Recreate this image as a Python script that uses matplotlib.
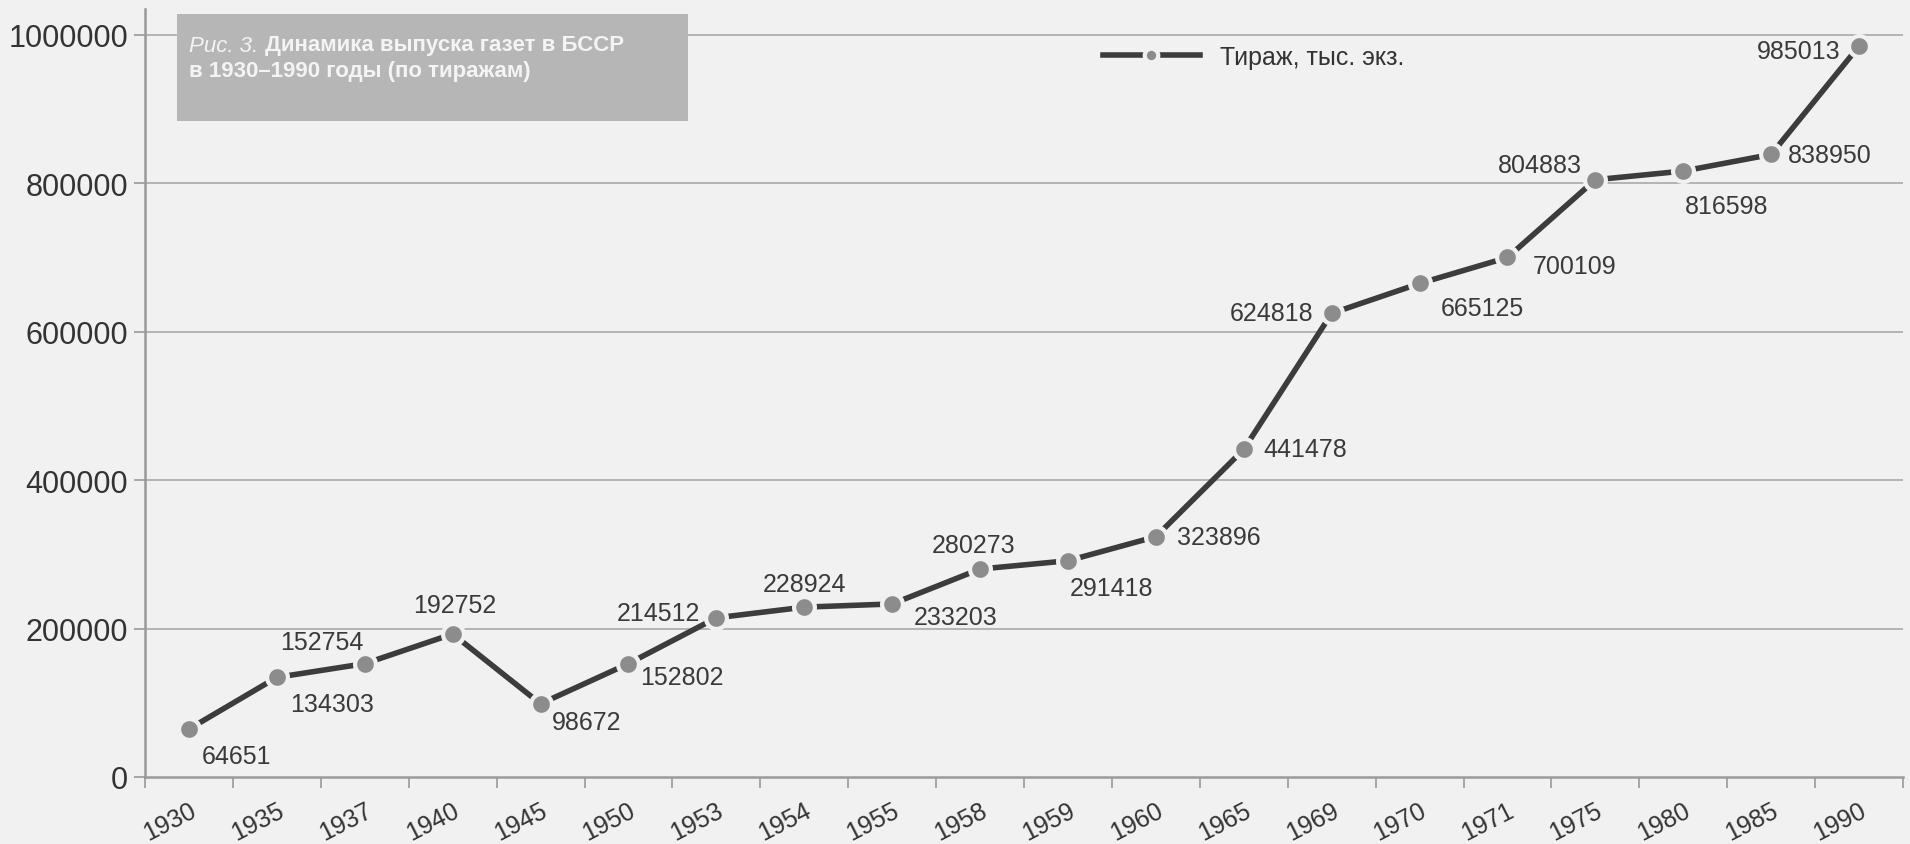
import matplotlib
matplotlib.use("Agg")
import matplotlib.pyplot as plt
from matplotlib.patches import Rectangle

plt.rcParams['font.family'] = ['Liberation Sans', 'DejaVu Sans']

years = ['1930', '1935', '1937', '1940', '1945', '1950', '1953', '1954', '1955', '1958',
         '1959', '1960', '1965', '1969', '1970', '1971', '1975', '1980', '1985', '1990']
circulation = [64651, 134303, 152754, 192752, 98672, 152802, 214512, 228924, 233203, 280273,
               291418, 323896, 441478, 624818, 665125, 700109, 804883, 816598, 838950, 985013]
y_ticks = [0, 200000, 400000, 600000, 800000, 1000000]
series_name = 'Тираж, тыс. экз.'
title_fig = 'Рис. 3.'
title_line1 = 'Динамика выпуска газет в БССР'
title_line2 = 'в 1930–1990 годы (по тиражам)'

# where each value label sits relative to its point (pixels, screen y down)
label_offsets = [(48, 27), (55, 27), (-43, -22), (2, -29), (46, 18), (53, 13), (-58, -5),
                 (0, -23), (63, 13), (-6, -24), (44, 27), (63, 0), (61, 0), (-60, 0),
                 (63, 25), (67, 9), (-55, -15), (43, 35), (59, 1), (-60, 5)]

BG = '#f1f1f1'
W, H = 1910, 845

fig = plt.figure(figsize=(W / 100, H / 100), dpi=100)
fig.patch.set_facecolor(BG)
ax = fig.add_axes([145 / W, 1 - 778 / H, (1903 - 145) / W, (778 - 10) / H])
ax.set_facecolor(BG)

x = list(range(len(years)))
ax.plot(x, circulation, color='#3c3c3c', linewidth=4.0, marker='o', markersize=15,
        markerfacecolor='#8c8c8c', markeredgecolor=BG, markeredgewidth=3.0,
        label=series_name, zorder=3)

for i, v in enumerate(circulation):
  dx, dy = label_offsets[i]
  ax.annotate(str(v), (i, v), xytext=(dx, -dy), textcoords='offset pixels',
              ha='center', va='center', fontsize=18, color='#3a3a3a', zorder=4)

ax.set_xlim(-0.5, len(years) - 0.5)
ax.set_ylim(0, 1035000)
ax.set_yticks(y_ticks)
ax.set_yticklabels([str(t) for t in y_ticks])
ax.tick_params(axis='y', length=8, width=1.2, color='#999999', pad=4,
               labelsize=22, labelcolor='#333333')

ax.set_xticks(x)
ax.set_xticklabels(years, rotation=27, ha='right', va='top', rotation_mode='anchor')
ax.tick_params(axis='x', which='major', length=0, pad=15, labelsize=18, labelcolor='#333333')
ax.set_xticks([i - 0.5 for i in range(len(years) + 1)], minor=True)
ax.tick_params(axis='x', which='minor', length=8, width=1.2, color='#999999')

for t in y_ticks[1:]:
  ax.axhline(t, color='#b4b4b4', linewidth=1.4, zorder=1)

for s in ['top', 'right']:
  ax.spines[s].set_visible(False)
for s in ['left', 'bottom']:
  ax.spines[s].set_color('#9a9a9a')
  ax.spines[s].set_linewidth(1.8)

leg = ax.legend(loc='center left', bbox_to_anchor=(1080 / W, 1 - 58 / H),
                bbox_transform=fig.transFigure, frameon=False, fontsize=18,
                handlelength=3.9, handletextpad=0.8, markerscale=0.65)
for t in leg.get_texts():
  t.set_color('#333333')

# caption box in the top-left corner
fig.patches.append(Rectangle((177 / W, 1 - 122 / H), (688 - 177) / W, (122 - 15) / H,
                             transform=fig.transFigure, facecolor='#b6b6b6',
                             edgecolor='none', zorder=2))
t1 = fig.text(189 / W, 1 - 46 / H, title_fig, fontsize=16, style='italic',
              color='#f4f4f4', va='center', ha='left', zorder=3)
fig.canvas.draw()
bb = t1.get_window_extent()
fig.text(bb.x1 / W + 7 / W, 1 - 46 / H, title_line1, fontsize=16, fontweight='bold',
         color='#f4f4f4', va='center', ha='left', zorder=3)
fig.text(189 / W, 1 - 72 / H, title_line2, fontsize=16, fontweight='bold',
         color='#f4f4f4', va='center', ha='left', zorder=3)

fig.savefig('out.png', dpi=100, facecolor=BG)
